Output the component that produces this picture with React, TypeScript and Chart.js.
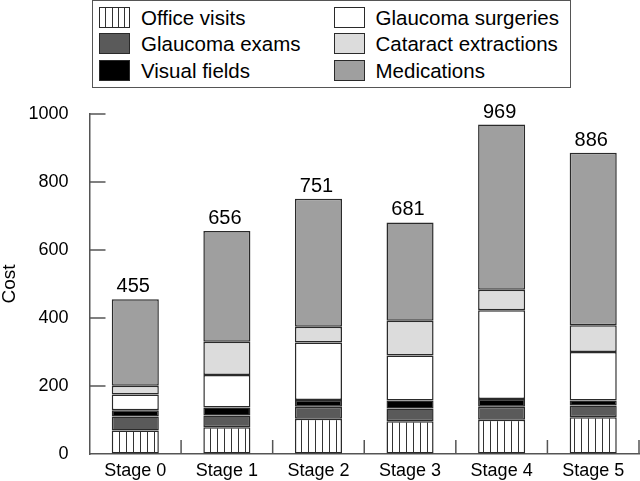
import React, { useEffect, useRef } from "react";
import { Chart, registerables } from "chart.js";

Chart.register(...registerables);

const categories = ["Stage 0", "Stage 1", "Stage 2", "Stage 3", "Stage 4", "Stage 5"];
const officeVisits = [69, 79, 104, 96, 101, 108];
const glaucomaExams = [41, 34, 35, 38, 38, 35];
const visualFields = [19, 24, 20, 23, 23, 14];
const glaucomaSurgeries = [46, 95, 169, 133, 261, 143];
const cataractExtractions = [26, 98, 46, 102, 60, 79];
const medications = [254, 326, 377, 289, 486, 507];
const seriesNames = [
  "Office visits",
  "Glaucoma exams",
  "Visual fields",
  "Glaucoma surgeries",
  "Cataract extractions",
  "Medications",
];
const seriesValues = [officeVisits, glaucomaExams, visualFields, glaucomaSurgeries, cataractExtractions, medications];
const seriesColors = ["stripes", "#5a5a5a", "#000000", "#ffffff", "#dcdcdc", "#9f9f9f"];
const yMin = 0;
const yMax = 1000;
const yStep = 200;

const FONT = "'Liberation Sans', Arial, Helvetica, sans-serif";
const EDGE = "#2a2a2a";
const AXIS = "#555555";

function makeStripes(): CanvasPattern | string {
  const c = document.createElement("canvas");
  c.width = 7;
  c.height = 8;
  const g = c.getContext("2d");
  if (!g) return "#ffffff";
  g.fillStyle = "#ffffff";
  g.fillRect(0, 0, 7, 8);
  g.fillStyle = "#333333";
  g.fillRect(0, 0, 1, 8);
  return g.createPattern(c, "repeat") || "#ffffff";
}

const innerTicks = {
  id: "innerTicks",
  afterDraw(chart: any) {
    const { ctx, chartArea } = chart;
    const xs = chart.scales.x;
    const ys = chart.scales.y;
    ctx.save();
    ctx.strokeStyle = AXIS;
    ctx.lineWidth = 1.5;
    ctx.beginPath();
    ys.ticks.forEach((t: any) => {
      if (t.value === yMin) return;
      const y = ys.getPixelForValue(t.value);
      ctx.moveTo(chartArea.left, y);
      ctx.lineTo(chartArea.left + 16, y);
    });
    for (let i = 1; i <= categories.length; i++) {
      const x = xs.getPixelForValue(i - 0.5);
      ctx.moveTo(x, chartArea.bottom);
      ctx.lineTo(x, chartArea.bottom - 14);
    }
    ctx.stroke();
    ctx.restore();
  },
};

const totalsLabels = {
  id: "totalsLabels",
  afterDatasetsDraw(chart: any) {
    const { ctx } = chart;
    const last = chart.getDatasetMeta(chart.data.datasets.length - 1);
    ctx.save();
    ctx.font = `20px ${FONT}`;
    ctx.fillStyle = "#000";
    ctx.textAlign = "center";
    ctx.textBaseline = "alphabetic";
    categories.forEach((_, i) => {
      const total = seriesValues.reduce((s, arr) => s + arr[i], 0);
      const el = last.data[i];
      ctx.fillText(String(total), el.x - 2, el.y - 7);
    });
    ctx.restore();
  },
};

function Legend() {
  const rows = 3;
  return (
    <div
      style={{
        position: "absolute",
        left: 92,
        top: 0,
        width: 479,
        height: 88,
        boxSizing: "border-box",
        border: `1.5px solid ${AXIS}`,
        background: "#fff",
        fontFamily: FONT,
        fontSize: 20.5,
        color: "#000",
      }}
    >
      {seriesNames.map((name, i) => {
        const col = Math.floor(i / rows);
        const row = i % rows;
        const color = seriesColors[i];
        const bg =
          color === "stripes"
            ? "repeating-linear-gradient(90deg, #ffffff 0px, #ffffff 5.3px, #333333 5.3px, #333333 6.3px)"
            : color;
        return (
          <div
            key={name}
            style={{
              position: "absolute",
              left: col === 0 ? 6 : 240.5,
              top: 5.5 + row * 26.5,
              height: 21,
              display: "flex",
              alignItems: "center",
              whiteSpace: "nowrap",
            }}
          >
            <span
              style={{
                display: "inline-block",
                width: 31,
                height: 21,
                boxSizing: "border-box",
                border: `1.5px solid ${EDGE}`,
                background: bg,
                marginRight: 11,
              }}
            />
            <span style={{ lineHeight: "21px" }}>{name}</span>
          </div>
        );
      })}
    </div>
  );
}

export default function App() {
  const ref = useRef<HTMLCanvasElement | null>(null);

  useEffect(() => {
    if (!ref.current) return;
    const stripes = makeStripes();
    const chart = new Chart(ref.current, {
      type: "bar",
      data: {
        labels: categories,
        datasets: seriesNames.map((name, i) => ({
          label: name,
          data: seriesValues[i],
          backgroundColor: seriesColors[i] === "stripes" ? (stripes as any) : seriesColors[i],
          borderColor: EDGE,
          borderWidth: 1.5,
          borderSkipped: false,
          categoryPercentage: 1,
          barPercentage: 0.514,
        })),
      },
      options: {
        animation: false,
        responsive: false,
        devicePixelRatio: 1,
        layout: { autoPadding: false, padding: { top: 114, right: 1, left: 0, bottom: 0 } },
        plugins: {
          legend: { display: false },
          tooltip: { enabled: false },
        },
        scales: {
          x: {
            stacked: true,
            grid: { display: true, drawOnChartArea: false, drawTicks: false },
            border: { display: true, color: AXIS, width: 1.5 },
            ticks: {
              color: "#000",
              font: { family: FONT, size: 18 },
              padding: 6,
              maxRotation: 0,
              autoSkip: false,
            },
            afterFit: (s: any) => {
              s.height = 27;
            },
          },
          y: {
            stacked: true,
            min: yMin,
            max: yMax,
            grid: {
              display: true,
              drawOnChartArea: false,
              drawTicks: true,
              tickLength: 21,
              tickColor: "rgba(0,0,0,0)",
            },
            border: { display: true, color: AXIS, width: 1.5 },
            ticks: {
              stepSize: yStep,
              color: "#000",
              font: { family: FONT, size: 18 },
              padding: 0,
              callback: (v: any) => String(v),
            },
            title: {
              display: true,
              text: "Cost",
              color: "#000",
              font: { family: FONT, size: 19, lineHeight: 1 },
              padding: 0,
            },
            afterFit: (s: any) => {
              s.width = 89.5;
            },
          },
        },
      },
      plugins: [innerTicks, totalsLabels],
    });
    return () => chart.destroy();
  }, []);

  return (
    <div style={{ position: "fixed", left: 0, top: 0, width: 640, height: 481, background: "#fff" }}>
      <canvas ref={ref} width={640} height={481} style={{ display: "block" }} />
      <Legend />
    </div>
  );
}
